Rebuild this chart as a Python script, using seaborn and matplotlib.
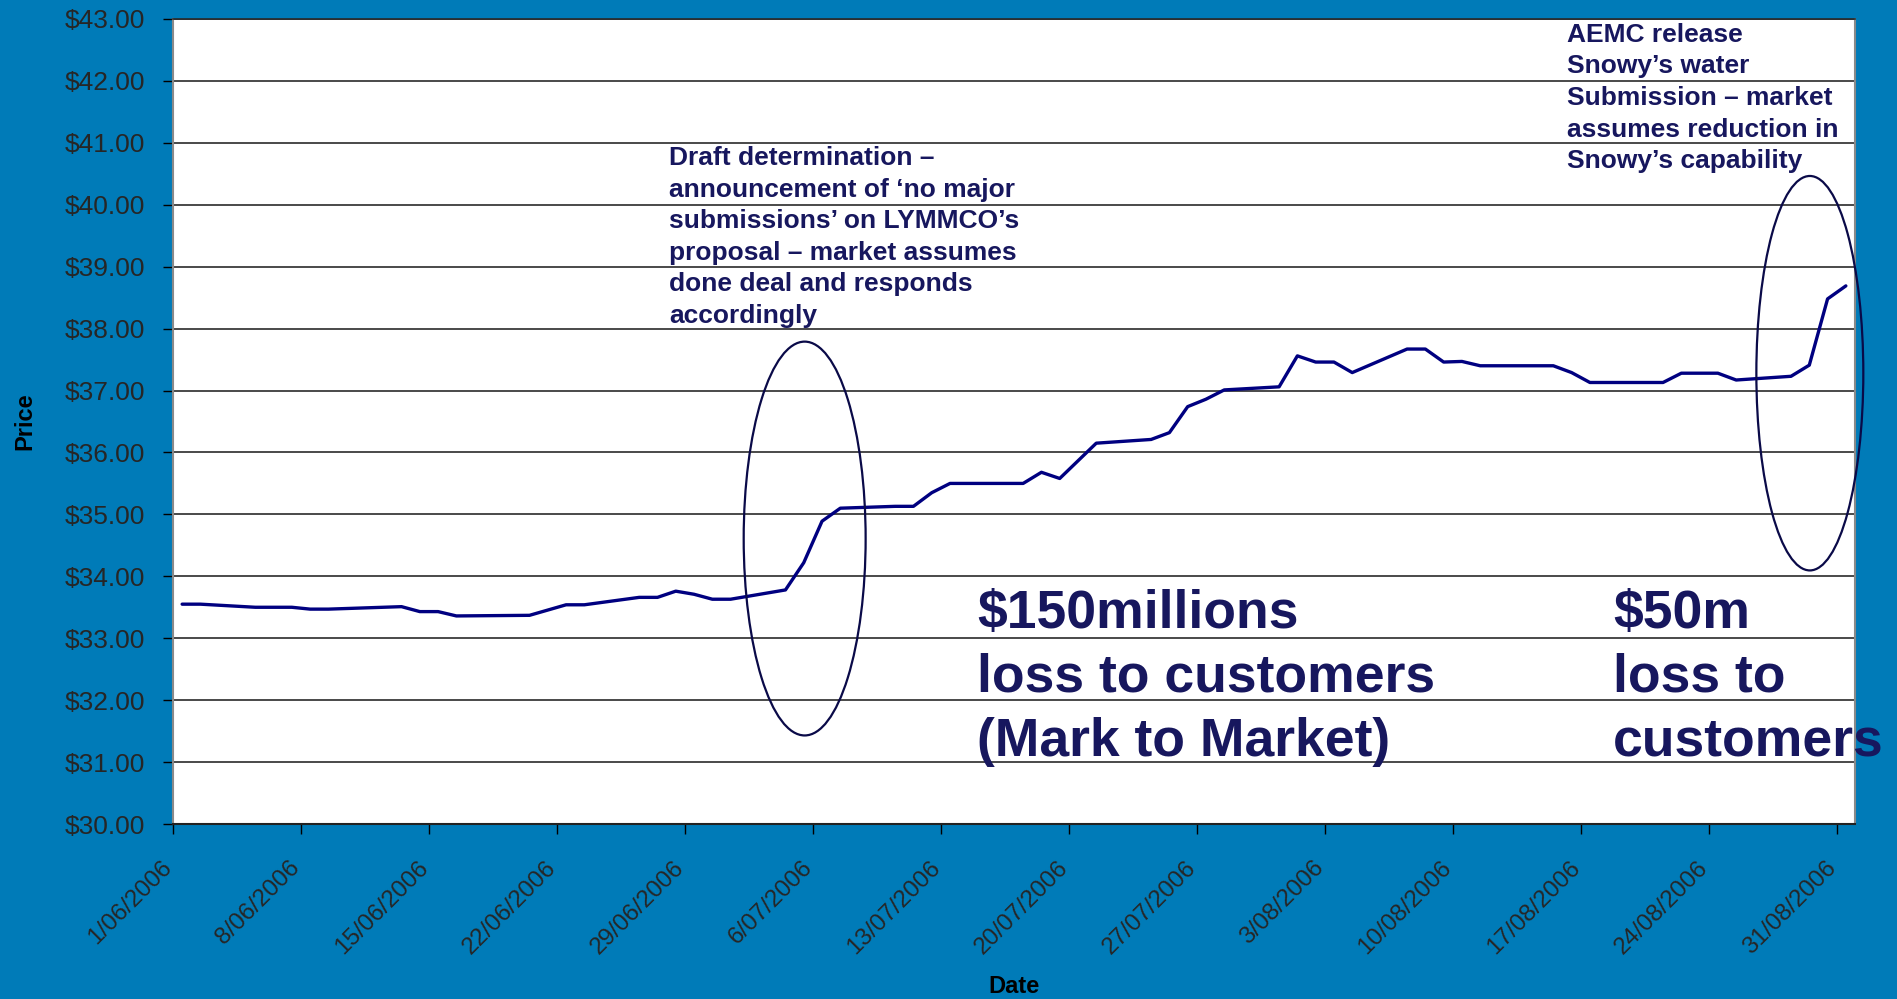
import matplotlib
matplotlib.use("Agg")
import matplotlib.pyplot as plt
import matplotlib.dates as mdates
from matplotlib.patches import Ellipse
import matplotlib.ticker as mticker
import seaborn as sns
import pandas as pd
import numpy as np

# ---- data ----
dates = ["2006-06-01", "2006-06-02", "2006-06-05", "2006-06-07", "2006-06-08", "2006-06-09",
         "2006-06-13", "2006-06-14", "2006-06-15", "2006-06-16", "2006-06-20", "2006-06-22",
         "2006-06-23", "2006-06-26", "2006-06-27", "2006-06-28", "2006-06-29", "2006-06-30",
         "2006-07-01", "2006-07-04", "2006-07-05", "2006-07-06", "2006-07-07", "2006-07-10",
         "2006-07-11", "2006-07-12", "2006-07-13", "2006-07-14", "2006-07-17", "2006-07-18",
         "2006-07-19", "2006-07-21", "2006-07-24", "2006-07-25", "2006-07-26", "2006-07-27",
         "2006-07-28", "2006-07-31", "2006-08-01", "2006-08-02", "2006-08-03", "2006-08-04",
         "2006-08-07", "2006-08-08", "2006-08-09", "2006-08-10", "2006-08-11", "2006-08-15",
         "2006-08-16", "2006-08-17", "2006-08-21", "2006-08-22", "2006-08-24", "2006-08-25",
         "2006-08-28", "2006-08-29", "2006-08-30", "2006-08-31"]
prices = [33.55, 33.55, 33.50, 33.50, 33.47, 33.47,
          33.51, 33.43, 33.43, 33.36, 33.37, 33.54,
          33.54, 33.66, 33.66, 33.76, 33.71, 33.63,
          33.63, 33.78, 34.22, 34.89, 35.10, 35.13,
          35.13, 35.35, 35.50, 35.50, 35.50, 35.68,
          35.58, 36.15, 36.21, 36.32, 36.74, 36.86,
          37.01, 37.06, 37.56, 37.46, 37.46, 37.29,
          37.67, 37.67, 37.46, 37.47, 37.40, 37.40,
          37.29, 37.13, 37.13, 37.28, 37.28, 37.17,
          37.23, 37.41, 38.48, 38.69]

y_ticks = list(range(30, 44))
x_tick_dates = ["2006-06-01", "2006-06-08", "2006-06-15", "2006-06-22", "2006-06-29",
                "2006-07-06", "2006-07-13", "2006-07-20", "2006-07-27", "2006-08-03",
                "2006-08-10", "2006-08-17", "2006-08-24", "2006-08-31"]
x_tick_labels = ["1/06/2006", "8/06/2006", "15/06/2006", "22/06/2006", "29/06/2006",
                 "6/07/2006", "13/07/2006", "20/07/2006", "27/07/2006", "3/08/2006",
                 "10/08/2006", "17/08/2006", "24/08/2006", "31/08/2006"]

note1 = ("Draft determination \u2013\nannouncement of \u2018no major\nsubmissions\u2019 on LYMMCO\u2019s\n"
         "proposal \u2013 market assumes\ndone deal and responds\naccordingly")
note2 = ("AEMC release\nSnowy\u2019s water\nSubmission \u2013 market\nassumes reduction in\n"
         "Snowy\u2019s capability")
big1 = "$150millions\nloss to customers\n(Mark to Market)"
big2 = "$50m\nloss to\ncustomers"

# ---- style ----
BG = "#007BB8"
LINE = "#000080"
NAVY = "#17175E"

sns.set_style("white")
plt.rcParams["font.family"] = ["Liberation Sans", "DejaVu Sans"]

W, H = 1897, 999
fig = plt.figure(figsize=(W / 100, H / 100), dpi=100, facecolor=BG)
L, R, T, B = 173, 1855, 19, 824
ax = fig.add_axes([L / W, 1 - B / H, (R - L) / W, (B - T) / H])
ax.set_facecolor("white")

df = pd.DataFrame({"date": pd.to_datetime(dates) + pd.Timedelta(hours=12), "price": prices})
sns.lineplot(data=df, x="date", y="price", color=LINE, linewidth=2.4, ax=ax, zorder=3)

ax.set_xlim(pd.Timestamp("2006-06-01"), pd.Timestamp("2006-09-01"))
ax.set_ylim(30, 43)
ax.set_yticks(y_ticks)
ax.yaxis.set_major_formatter(mticker.FuncFormatter(lambda v, p: f"${v:.2f}"))
ax.set_xticks(pd.to_datetime(x_tick_dates))
ax.set_xticklabels(x_tick_labels, rotation=45, ha="right", va="baseline",
                   rotation_mode="anchor", fontsize=17.5)
ax.tick_params(axis="x", length=7, width=1, color="black", pad=25, direction="out", bottom=True)
ax.tick_params(axis="y", length=7, width=1, color="black", labelsize=19, pad=13, direction="out", left=True)

ax.grid(axis="y", color="#2a2a2a", linewidth=1.2, zorder=1)
ax.grid(axis="x", visible=False)
for s in ["left", "right"]:
    ax.spines[s].set_color("#8a8a8a")
    ax.spines[s].set_linewidth(1.5)
ax.spines["top"].set_color("#2a2a2a")
ax.spines["top"].set_linewidth(1.2)
ax.spines["bottom"].set_color("#222222")
ax.spines["bottom"].set_linewidth(1.5)

ax.set_ylabel("Price", fontsize=17, fontweight="bold", color="black")
ax.set_xlabel("Date", fontsize=17, fontweight="bold", color="black")
ax.yaxis.set_label_coords(-0.0815, 0.5)
ax.xaxis.set_label_coords(0.5, -0.1876)

# ellipses
e1_center = mdates.date2num(pd.Timestamp("2006-07-05")) + 0.55
e2_center = mdates.date2num(pd.Timestamp("2006-08-29")) + 0.53
for cx, cy, w, h in [(e1_center, 34.61, 6.67, 6.36), (e2_center, 37.28, 5.85, 6.37)]:
    ax.add_patch(Ellipse((cx, cy), w, h, fill=False, edgecolor="#0A0A48",
                         linewidth=1.6, clip_on=False, zorder=4))

# annotations
fig.text(669 / W, 1 - 237 / H, note1, ha="left", va="center", fontsize=19,
         fontweight="bold", color=NAVY, linespacing=1.4)
fig.text(1567 / W, 1 - 98 / H, note2, ha="left", va="center", fontsize=19,
         fontweight="bold", color=NAVY, linespacing=1.4)
fig.text(977 / W, 1 - 678 / H, big1, ha="left", va="center", fontsize=38.5,
         fontweight="bold", color=NAVY, linespacing=1.355)
fig.text(1613 / W, 1 - 678 / H, big2, ha="left", va="center", fontsize=38.5,
         fontweight="bold", color=NAVY, linespacing=1.355)

fig.savefig("out.png", dpi=100, facecolor=BG)
